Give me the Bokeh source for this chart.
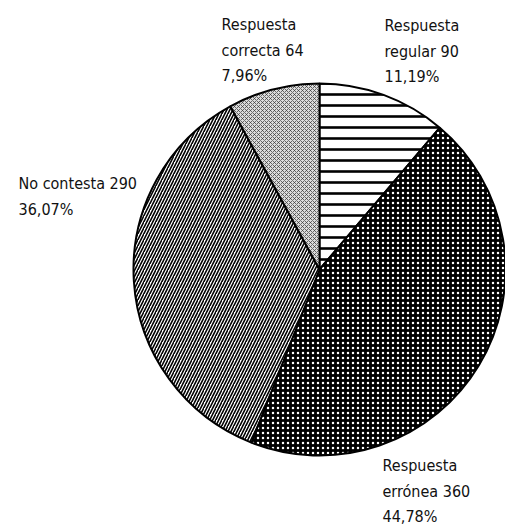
import numpy as np
from bokeh.plotting import figure
from bokeh.models import Range1d, ColumnDataSource
from bokeh.core.properties import value
from bokeh.embed import file_html
from bokeh.resources import INLINE

# ---- data ----
categories = ["Respuesta\nregular", "Respuesta\nerrónea", "No contesta", "Respuesta\ncorrecta"]
counts = [90, 360, 290, 64]
percents = ["11,19%", "44,78%", "36,07%", "7,96%"]

# ---- styles / layout ----
fill_colors = ["white", "black", "white", "#dcdcdc"]
hatch_patterns = ["-", ".", "/", "x"]
hatch_colors = ["black", "white", "black", "#333333"]
hatch_scales = [11, 5, 6, 4]
hatch_weights = [2.6, 2.2, 1.6, 0.7]
label_x = [384, 382, 18, 221]
label_first_baseline = [25, 465, 183, 24]
line_step = 25.5

W, H = 505, 525
cx, cy, R = 319, H - 269, 186

total = float(sum(counts))
cum = np.cumsum([0] + counts)
start = np.pi / 2 - 2 * np.pi * cum[:-1] / total
end = np.pi / 2 - 2 * np.pi * cum[1:] / total

p = figure(width=W, height=H, output_backend="svg", toolbar_location=None,
           x_range=Range1d(0, W), y_range=Range1d(0, H), min_border=0)
p.axis.visible = False
p.grid.visible = False
p.outline_line_color = None
p.background_fill_color = "white"

src = ColumnDataSource(dict(start=start, end=end, fill=fill_colors, hp=hatch_patterns,
                            hc=hatch_colors, hs=hatch_scales, hw=hatch_weights))
p.wedge(x=cx, y=cy, radius=R, start_angle="start", end_angle="end", direction="clock",
        fill_color="fill", hatch_pattern="hp", hatch_color="hc", hatch_scale="hs",
        hatch_weight="hw", line_color="black", line_width=2, source=src)

tx, ty, tt = [], [], []
for cat, n, pct, x0, b0 in zip(categories, counts, percents, label_x, label_first_baseline):
    lines = (f"{cat} {n}\n{pct}").split("\n")
    for i, ln in enumerate(lines):
        tx.append(x0)
        ty.append(H - (b0 + i * line_step))
        tt.append(ln)

p.text(x=tx, y=ty, text=tt, text_font=value("DejaVu Sans Condensed"),
       text_font_size="16px", text_baseline="alphabetic", text_align="left",
       text_color="#111111")

open("out.html", "w").write(file_html(p, INLINE))
